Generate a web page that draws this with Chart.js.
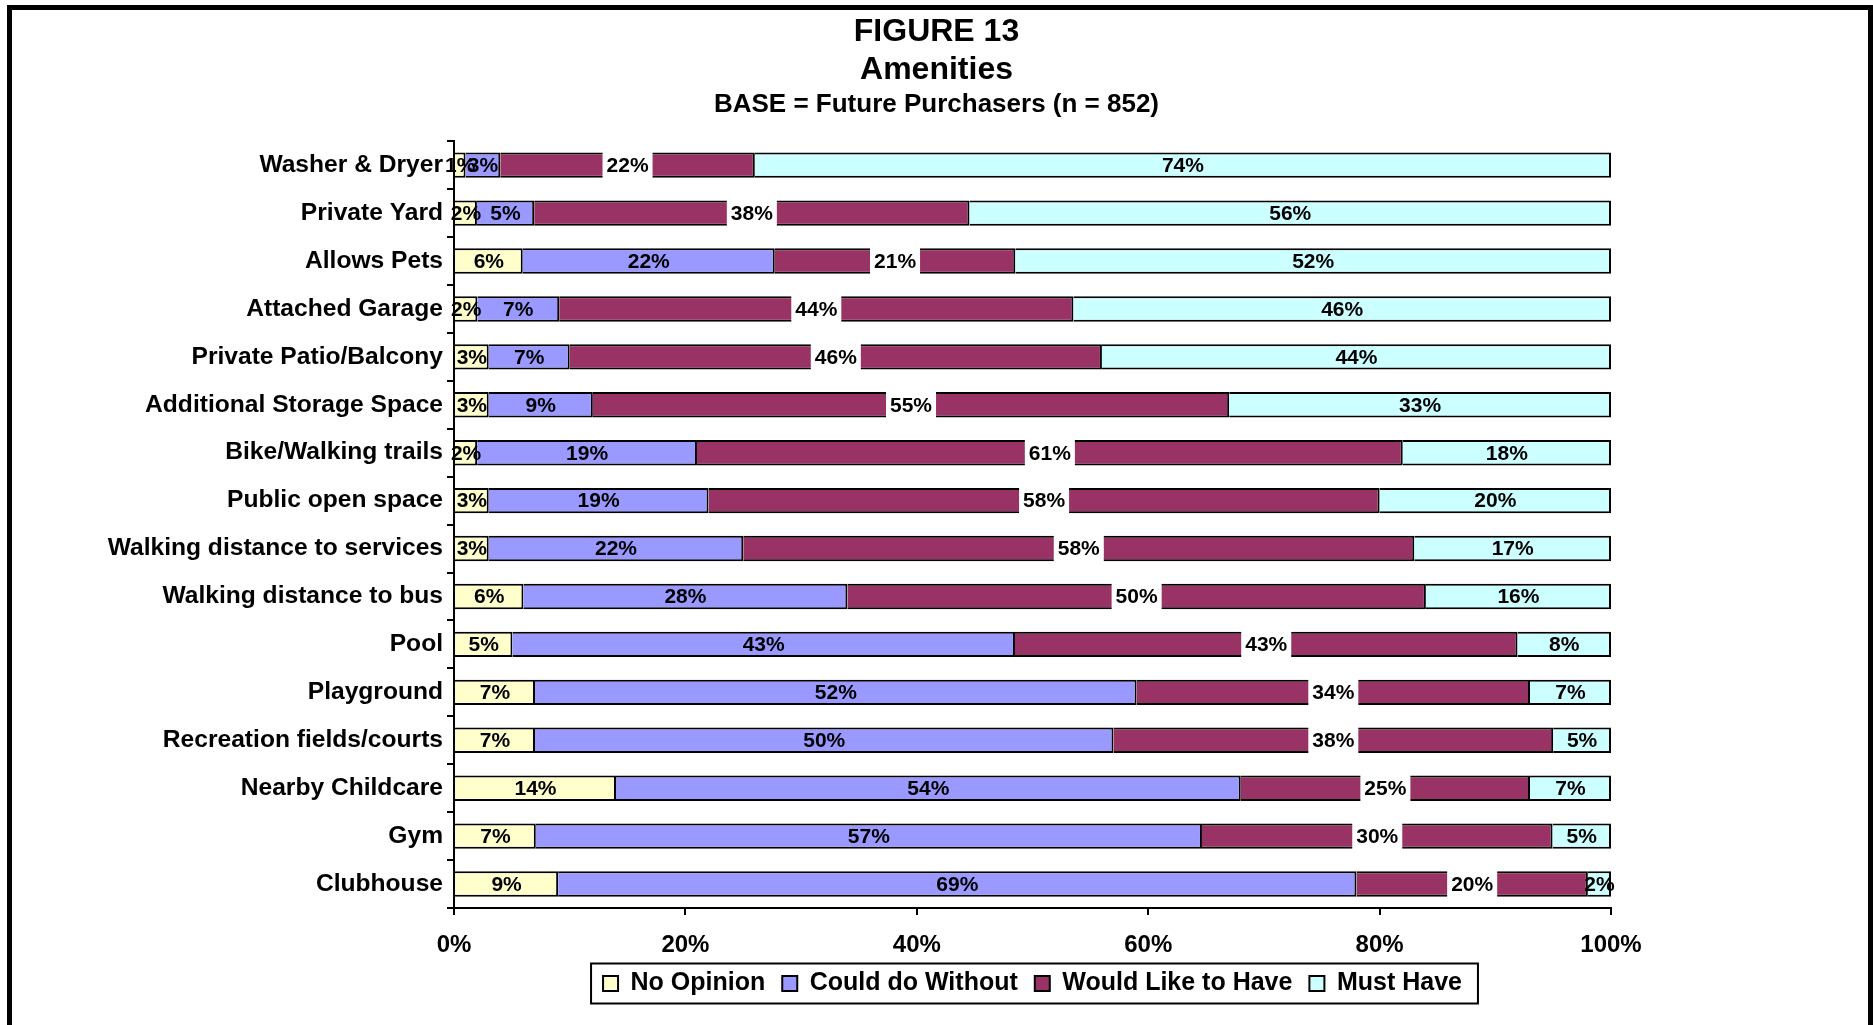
<!DOCTYPE html>
<html>
<head>
<meta charset="utf-8">
<script src="https://cdn.jsdelivr.net/npm/chart.js@4/dist/chart.umd.min.js"></script>
<style>
  html, body { margin: 0; padding: 0; background: #fff; }
  #wrap { position: relative; width: 1873px; height: 1025px; overflow: hidden; }
  canvas { display: block; }
</style>
</head>
<body>
<div id="wrap"><canvas id="c" width="1873" height="1025"></canvas></div>
<script>
// ---- Data ----
const categories = [
  'Washer & Dryer', 'Private Yard', 'Allows Pets', 'Attached Garage',
  'Private Patio/Balcony', 'Additional Storage Space', 'Bike/Walking trails',
  'Public open space', 'Walking distance to services', 'Walking distance to bus',
  'Pool', 'Playground', 'Recreation fields/courts', 'Nearby Childcare', 'Gym', 'Clubhouse'
];
const seriesNames = ['No Opinion', 'Could do Without', 'Would Like to Have', 'Must Have'];
const noOpinion      = [1, 2, 6, 2, 3, 3, 2, 3, 3, 6, 5, 7, 7, 14, 7, 9];
const couldDoWithout = [3, 5, 22, 7, 7, 9, 19, 19, 22, 28, 43, 52, 50, 54, 57, 69];
const wouldLike      = [22, 38, 21, 44, 46, 55, 61, 58, 58, 50, 43, 34, 38, 25, 30, 20];
const mustHave       = [74, 56, 52, 46, 44, 33, 18, 20, 17, 16, 8, 7, 5, 7, 5, 2];
const xTicks = [0, 20, 40, 60, 80, 100];
const titleLines = ['FIGURE 13', 'Amenities'];
const subtitleText = 'BASE = Future Purchasers (n = 852)';

const colors = ['#FFFFCC', '#9999FF', '#993366', '#CCFFFF'];
const rawSeries = [noOpinion, couldDoWithout, wouldLike, mustHave];

// 100% stacked: each row normalised to its own total
const rowTotals = categories.map((_, i) => rawSeries.reduce((s, arr) => s + arr[i], 0));
const datasets = rawSeries.map((arr, k) => ({
  label: seriesNames[k],
  data: arr.map((v, i) => v / rowTotals[i] * 100),
  raw: arr,
  backgroundColor: colors[k],
  borderColor: '#000',
  borderWidth: 2,
  barPercentage: 0.53,
  categoryPercentage: 1.0,
  xAxisID: 'x',
  yAxisID: 'y'
}));

const FONT = '"Liberation Sans", Arial, Helvetica, sans-serif';
Chart.defaults.font.family = FONT;
Chart.defaults.color = '#000';

const frameAndLabels = {
  id: 'frameAndLabels',
  afterDatasetsDraw(chart) {
    const ctx = chart.ctx;
    ctx.save();
    ctx.font = 'bold 21px ' + FONT;
    ctx.textAlign = 'center';
    ctx.textBaseline = 'middle';
    chart.data.datasets.forEach((ds, di) => {
      const meta = chart.getDatasetMeta(di);
      meta.data.forEach((bar, i) => {
        const p = bar.getProps(['x', 'y', 'base', 'height'], true);
        const cx = (p.x + p.base) / 2;
        const txt = ds.raw[i] + '%';
        if (di === 2) {
          const w = ctx.measureText(txt).width + 8;
          ctx.fillStyle = '#fff';
          ctx.fillRect(cx - w / 2, p.y - p.height / 2 - 2, w, p.height + 4);
        }
        ctx.fillStyle = '#000';
        ctx.fillText(txt, cx, p.y + 1);
      });
    });
    ctx.restore();
  },
  afterDraw(chart) {
    const ctx = chart.ctx;
    ctx.save();
    // outer frame (left, top, right)
    ctx.fillStyle = '#000';
    ctx.fillRect(7, 5, 5, 1025);
    ctx.fillRect(7, 5, 1866, 5);
    ctx.fillRect(1868, 5, 5, 1025);
    // legend border
    const lg = chart.legend;
    if (lg && lg.legendHitBoxes && lg.legendHitBoxes.length) {
      const hb = lg.legendHitBoxes;
      const left = hb[0].left - 12;
      const last = hb[hb.length - 1];
      const right = last.left + last.width + 16;
      const cy = hb[0].top + hb[0].height / 2;
      ctx.strokeStyle = '#000';
      ctx.lineWidth = 2;
      ctx.strokeRect(left, cy - 20, right - left, 40);
    }
    ctx.restore();
  }
};

new Chart(document.getElementById('c'), {
  type: 'bar',
  data: { labels: categories, datasets },
  options: {
    indexAxis: 'y',
    responsive: false,
    animation: false,
    layout: { padding: { left: 0, right: 0, top: 0, bottom: 19 } },
    scales: {
      x: {
        stacked: true,
        min: 0, max: 100,
        afterBuildTicks(scale) { scale.ticks = xTicks.map(v => ({ value: v })); },
        afterFit(scale) { scale.height = 46; },
        ticks: {
          callback: v => v + '%',
          font: { size: 24, weight: 'bold' },
          color: '#000',
          padding: 16,
          maxRotation: 0
        },
        grid: { drawOnChartArea: false, drawTicks: true, tickLength: 7, color: '#000', lineWidth: 2 },
        border: { display: true, color: '#000', width: 2 }
      },
      y: {
        stacked: true,
        afterFit(scale) { scale.width = 454; },
        ticks: { font: { size: 24.6, weight: 'bold' }, color: '#000', padding: 4 },
        grid: { offset: true, drawOnChartArea: false, drawTicks: true, tickLength: 7, color: '#000', lineWidth: 2 },
        border: { display: true, color: '#000', width: 2 }
      },
      rightSpace: {
        type: 'linear',
        axis: 'y',
        position: 'right',
        afterFit(scale) { scale.width = 262; },
        ticks: { display: false },
        grid: { display: false },
        border: { display: false }
      }
    },
    plugins: {
      title: {
        display: true,
        text: titleLines,
        font: { size: 32, weight: 'bold', lineHeight: 1.1875 },
        color: '#000',
        padding: { top: 13, bottom: 0 }
      },
      subtitle: {
        display: true,
        text: subtitleText,
        font: { size: 26, weight: 'bold', lineHeight: 1.2 },
        color: '#000',
        padding: { top: 0, bottom: 21 }
      },
      legend: {
        display: true,
        position: 'bottom',
        fullSize: false,
        labels: {
          font: { size: 25, weight: 'bold' },
          color: '#000',
          boxWidth: 15,
          boxHeight: 15,
          padding: 17
        }
      },
      tooltip: { enabled: false }
    }
  },
  plugins: [frameAndLabels]
});
</script>
</body>
</html>
